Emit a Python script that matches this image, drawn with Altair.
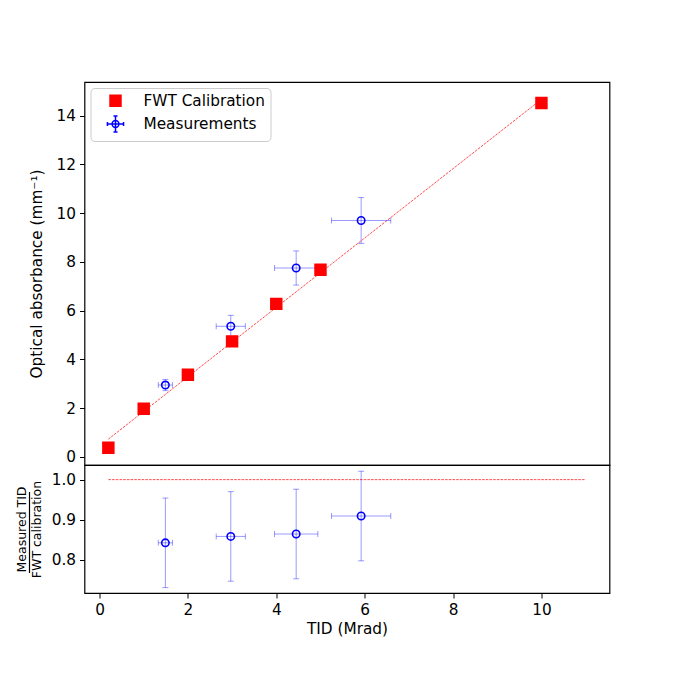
import altair as alt
import pandas as pd

# ---- data ----
cal_x = [0.2, 1, 2, 3, 4, 5, 10]
cal_y = [0.38, 1.98, 3.37, 4.74, 6.28, 7.68, 14.52]

fit_x = [0.2, 10]
fit_y = [0.73, 14.67]

meas_x = [1.49, 2.97, 4.45, 5.92]
meas_xerr = [0.16, 0.33, 0.49, 0.67]
meas_y = [2.95, 5.36, 7.75, 9.70]
meas_yerr = [0.23, 0.45, 0.70, 0.94]

ratio = [0.842, 0.858, 0.864, 0.909]
ratio_err = [0.112, 0.112, 0.112, 0.112]

ref_x = [0.2, 11]
ref_y = [1.0, 1.0]

x_ticks = [0, 2, 4, 6, 8, 10]
y_ticks_top = [0, 2, 4, 6, 8, 10, 12, 14]
y_ticks_bot = [0.8, 0.9, 1.0]

series_names = ["FWT Calibration", "Measurements"]

FONT = "DejaVu Sans"
BLUE = "#0000ff"
RED = "#ff0000"
FS = 15.3

cal = pd.DataFrame({"x": cal_x, "y": cal_y, "series": series_names[0]})
fit = pd.DataFrame({"x": fit_x, "y": fit_y})
meas = pd.DataFrame({"x": meas_x, "xerr": meas_xerr, "y": meas_y, "yerr": meas_yerr,
                     "r": ratio, "rerr": ratio_err})
ref = pd.DataFrame({"x": ref_x, "y": ref_y})

xscale = alt.Scale(domain=[-0.34, 11.54], nice=False, zero=False)
yscale_top = alt.Scale(domain=[-0.33, 15.38], nice=False, zero=False)
yscale_bot = alt.Scale(domain=[0.7165, 1.0366], nice=False, zero=False)

x_hidden = None
x_bottom = alt.Axis(values=x_ticks, format="d", title="TID (Mrad)", grid=False)

legend_path = ("M-0.42,0A0.42,0.42,0,1,1,0.42,0A0.42,0.42,0,1,1,-0.42,0Z"
               "M-1,0L1,0M0,-1L0,1"
               "M-1,-0.25L-1,0.25M1,-0.25L1,0.25M-0.25,-1L0.25,-1M-0.25,1L0.25,1")


def err_layers(base, xf, yf, xeq, yeq, xsc, ysc, xax, yax):
    lo_hi = base.transform_calculate(
        xlo=f"datum.{xf} - datum.{xeq}", xhi=f"datum.{xf} + datum.{xeq}",
        ylo=f"datum.{yf} - datum.{yeq}", yhi=f"datum.{yf} + datum.{yeq}")
    hbar = lo_hi.mark_rule(color=BLUE, opacity=0.4, strokeWidth=1).encode(
        x=alt.X("xlo:Q", scale=xsc, axis=xax), x2="xhi:Q",
        y=alt.Y(f"{yf}:Q", scale=ysc, axis=yax))
    vbar = lo_hi.mark_rule(color=BLUE, opacity=0.4, strokeWidth=1).encode(
        x=alt.X(f"{xf}:Q", scale=xsc, axis=xax),
        y=alt.Y("ylo:Q", scale=ysc, axis=yax), y2="yhi:Q")
    caps = []
    for fy in ["ylo", "yhi"]:
        caps.append(lo_hi.mark_tick(color=BLUE, opacity=0.4, orient="horizontal",
                                    size=6, thickness=1).encode(
            x=alt.X(f"{xf}:Q", scale=xsc, axis=xax),
            y=alt.Y(f"{fy}:Q", scale=ysc, axis=yax)))
    for fx in ["xlo", "xhi"]:
        caps.append(lo_hi.mark_tick(color=BLUE, opacity=0.4, orient="vertical",
                                    size=6, thickness=1).encode(
            x=alt.X(f"{fx}:Q", scale=xsc, axis=xax),
            y=alt.Y(f"{yf}:Q", scale=ysc, axis=yax)))
    circ = base.mark_point(shape="circle", filled=False, color=BLUE, size=55,
                           strokeWidth=1.6, opacity=1).encode(
        x=alt.X(f"{xf}:Q", scale=xsc, axis=xax),
        y=alt.Y(f"{yf}:Q", scale=ysc, axis=yax))
    return [hbar, vbar] + caps + [circ]


# ---------------- top panel ----------------
y_top_axis = alt.Axis(values=y_ticks_top, format="d", title="Optical absorbance (mm⁻¹)",
                      grid=False, titlePadding=12)

fit_line = alt.Chart(fit).mark_line(color=RED, strokeWidth=0.7,
                                    strokeDash=[2.6, 1.1]).encode(
    x=alt.X("x:Q", scale=xscale, axis=x_hidden),
    y=alt.Y("y:Q", scale=yscale_top, axis=y_top_axis))

squares = alt.Chart(cal).mark_point(filled=True, opacity=1, strokeWidth=1.5).encode(
    x=alt.X("x:Q", scale=xscale, axis=x_hidden),
    y=alt.Y("y:Q", scale=yscale_top, axis=y_top_axis),
    fill=alt.Fill("series:N", scale=alt.Scale(domain=series_names, range=[RED, "transparent"]), title=None),
    stroke=alt.Stroke("series:N", scale=alt.Scale(domain=series_names, range=[RED, BLUE]), title=None),
    shape=alt.Shape("series:N", scale=alt.Scale(domain=series_names, range=["square", legend_path]), title=None),
    size=alt.Size("series:N", scale=alt.Scale(domain=series_names, range=[120, 260]), title=None),
)

top_layers = [fit_line] + err_layers(alt.Chart(meas), "x", "y", "xerr", "yerr",
                                     xscale, yscale_top, x_hidden, y_top_axis) + [squares]
top = alt.layer(*top_layers).properties(width=525, height=383)

# ---------------- bottom panel ----------------
y_bot_axis = alt.Axis(values=y_ticks_bot, format=".1f",
                      title=["Measured TID", "FWT calibration"],
                      titleFontSize=12.5, titleLineHeight=15, titlePadding=8, grid=False)

ref_line = alt.Chart(ref).mark_line(color=RED, strokeWidth=0.7,
                                    strokeDash=[2.6, 1.1]).encode(
    x=alt.X("x:Q", scale=xscale, axis=x_bottom),
    y=alt.Y("y:Q", scale=yscale_bot, axis=y_bot_axis))

frac_bar = alt.Chart(pd.DataFrame({"k": [0]})).mark_rule(
    color="black", strokeWidth=1.2, clip=False).encode(
    x=alt.value(-55), x2=alt.value(-55), y=alt.value(27), y2=alt.value(108))

bot_layers = [ref_line] + err_layers(alt.Chart(meas), "x", "r", "xerr", "rerr",
                                     xscale, yscale_bot, x_bottom, y_bot_axis) + [frac_bar]
bottom = alt.layer(*bot_layers).properties(width=525, height=128)

chart = alt.vconcat(top, bottom, spacing=0, bounds="flush").properties(
    padding={"left": 6.5, "top": 73, "right": 5, "bottom": 5}
).configure_view(
    stroke="black", strokeWidth=1.2
).configure_axis(
    domain=False, tickColor="black", tickSize=5, tickWidth=1,
    labelFont=FONT, labelFontSize=FS, labelColor="black", labelPadding=4,
    titleFont=FONT, titleFontSize=FS, titleFontWeight="normal", titleColor="black"
).configure_legend(
    orient="top-left", offset=6, padding=5, fillColor="white", strokeColor="#cccccc",
    cornerRadius=4, labelFont=FONT, labelFontSize=FS, labelColor="black",
    labelOffset=19, symbolOffset=11, rowPadding=2, symbolStrokeWidth=1.5, title=None
)

chart.save("out.html", embed_options={"renderer": "svg", "actions": False})
